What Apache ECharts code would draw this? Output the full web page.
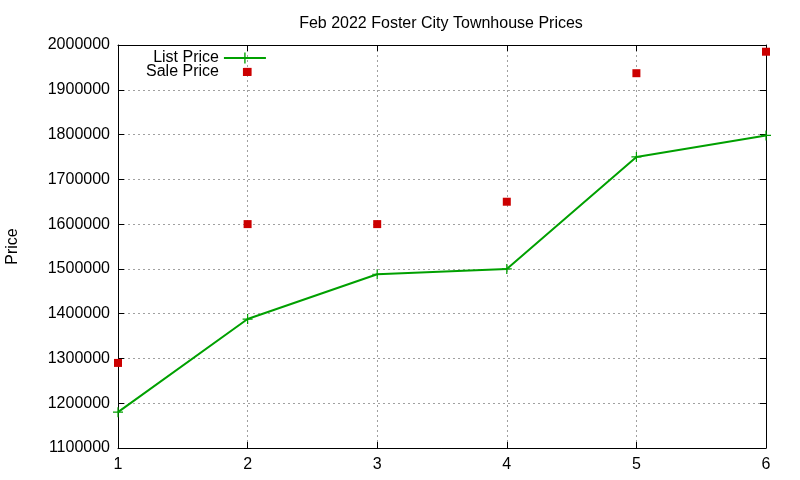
<!DOCTYPE html>
<html><head><meta charset="utf-8">
<script src="https://cdn.jsdelivr.net/npm/echarts@6/dist/echarts.min.js"></script>
<style>html,body{margin:0;padding:0;background:#fff}#c{width:800px;height:480px}</style>
</head><body><div id="c"></div>
<script>
const titleText = 'Feb 2022 Foster City Townhouse Prices';
const yAxisName = 'Price';
const seriesNames = ['List Price', 'Sale Price'];
const listPrice = [[1, 1180000], [2, 1388000], [3, 1488000], [4, 1500000], [5, 1750000], [6, 1798000]];
const salePrice = [[1, 1290000], [2, 1600000], [2, 1940000], [3, 1600000], [4, 1650000], [5, 1937000], [6, 1985000]];
const xRange = [1, 6, 1];
const yRange = [1100000, 2000000, 100000];

const font = 'Liberation Sans, Arial, sans-serif';
const plus = 'path://M0,4.4h10v1.2h-10zM4.4,0h1.2v10h-1.2z';
const legendSquare = 'path://M0,0L0,0M42,14L42,14M19,3h8v8h-8z';
const gridLine = {show: true, lineStyle: {color: '#a0a0a0', type: [2, 3], width: 1}};
const axisLine = {show: true, onZero: false, lineStyle: {color: '#000', width: 1}};
const tick = {show: true, inside: true, length: 6, lineStyle: {color: '#000'}};
const lbl = {fontFamily: font, fontSize: 16, color: '#000'};

const chart = echarts.init(document.getElementById('c'));
chart.setOption({
  animation: false,
  title: {text: titleText, left: 436, top: 11, textAlign: 'center',
    textStyle: Object.assign({fontWeight: 'normal'}, lbl)},
  legend: {orient: 'vertical', align: 'right', left: 141, top: 45, itemWidth: 42, itemHeight: 14, itemGap: -2,
    textStyle: lbl,
    data: [{name: seriesNames[0]}, {name: seriesNames[1], icon: legendSquare}]},
  grid: {left: 118, right: 34, top: 45, bottom: 32, containLabel: false, outerBoundsMode: 'none'},
  xAxis: [
    {type: 'value', min: xRange[0], max: xRange[1], interval: xRange[2], position: 'bottom',
      axisLine: axisLine, axisTick: tick, splitLine: gridLine,
      axisLabel: Object.assign({margin: 9}, lbl)},
    {type: 'value', min: xRange[0], max: xRange[1], interval: xRange[2], position: 'top',
      axisLine: axisLine, axisTick: tick, splitLine: {show: false}, axisLabel: {show: false}}
  ],
  yAxis: [
    {type: 'value', min: yRange[0], max: yRange[1], interval: yRange[2], position: 'left',
      name: yAxisName, nameLocation: 'middle', nameGap: 97, nameRotate: 90,
      nameTextStyle: lbl,
      axisLine: axisLine, axisTick: tick, splitLine: gridLine,
      axisLabel: Object.assign({margin: 8, formatter: v => String(v)}, lbl)},
    {type: 'value', min: yRange[0], max: yRange[1], interval: yRange[2], position: 'right',
      axisLine: axisLine, axisTick: tick, splitLine: {show: false}, axisLabel: {show: false}}
  ],
  series: [
    {name: seriesNames[0], type: 'line', data: listPrice, symbol: plus, symbolSize: 10,
      showAllSymbol: true, color: '#00a000', lineStyle: {width: 2, color: '#00a000'},
      itemStyle: {color: '#00a000'}, z: 3},
    {name: seriesNames[1], type: 'scatter', data: salePrice, symbol: 'rect', symbolSize: 8,
      color: '#cc0000', itemStyle: {color: '#cc0000', opacity: 1}, z: 4}
  ]
});
</script></body></html>
